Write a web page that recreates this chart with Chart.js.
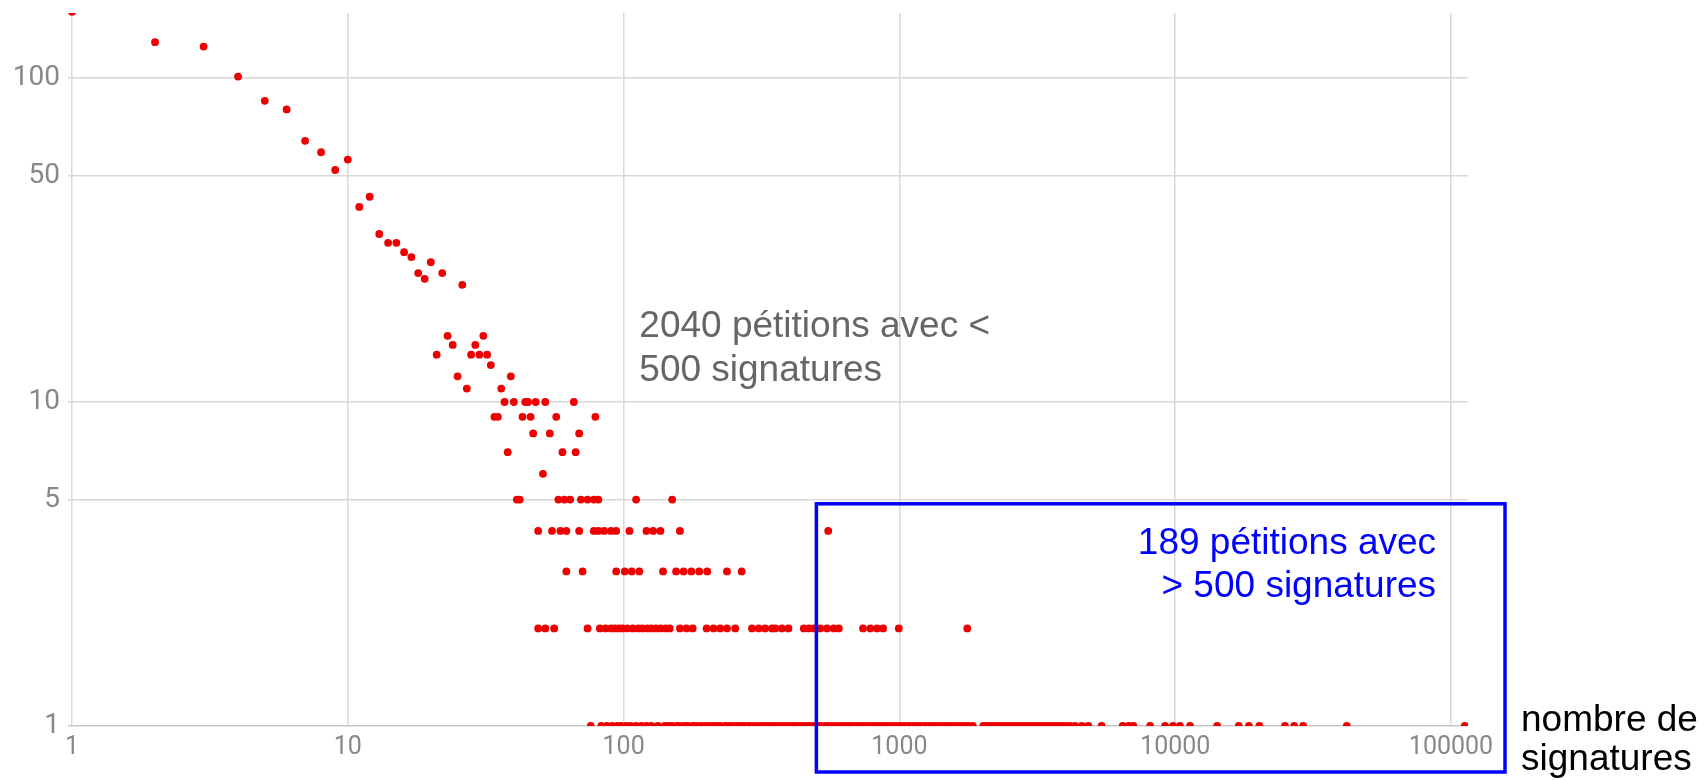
<!DOCTYPE html>
<html>
<head>
<meta charset="utf-8">
<script src="https://cdn.jsdelivr.net/npm/chart.js@4.4.1/dist/chart.umd.min.js"></script>
<style>
  body { margin: 0; background: #fff; }
  #wrap { width: 1705px; height: 780px; position: relative; }
</style>
</head>
<body>
<div id="wrap"><canvas id="myChart"></canvas></div>
<script>
// nombre de signatures pour chaque niveau (nombre de pétitions)
const sigs1 = [76, 83, 87, 91, 95, 98, 102, 106, 111, 116, 121, 126, 133,
  141, 145, 150, 156, 160, 166, 171, 178, 183, 190, 196, 203, 210, 217, 224, 233, 240, 248, 257, 265, 274, 284, 293, 303, 314, 324, 335, 347, 358, 371, 383, 396, 410, 423, 438, 453, 468, 485, 501, 517, 536, 553, 572, 592, 613, 633, 655, 676, 700, 723, 748, 774, 800, 828, 855, 885, 914, 946, 977, 1012, 1045, 1082, 1118, 1157, 1195, 1237, 1278, 1322, 1366, 1413, 1461, 1511, 1562, 1615, 1670, 1727, 1786, 1846,
  2015, 2075, 2140, 2210, 2282, 2355, 2432, 2515, 2600, 2688, 2780, 2872, 2968, 3070, 3172, 3280, 3390, 3505, 3620, 3745, 3870, 4000, 4150,
  4330, 4580, 4840, 5410, 6450, 6800, 7050, 8110, 9190, 9820, 10400, 11320, 14200, 17000, 18500, 20200, 25000, 27000, 29100, 41900, 112200];
const sigs2 = [49, 52, 56, 74, 82, 86, 90, 93, 96, 99, 103, 108, 113, 117, 122, 126, 131, 136, 142, 147, 160, 169, 178, 200, 212, 224, 237, 254, 292, 309, 326, 345, 355, 375, 396, 450, 469, 489, 517, 547, 578, 603, 738, 785, 830, 873, 995, 1762];
const sigs3 = [62, 71, 94, 101, 107, 114, 139, 155, 165, 176, 188, 201, 237, 268];
const sigs4 = [49, 55, 59, 62, 69, 78, 81, 85, 90, 94, 105, 121, 128, 136, 160, 552];
const sigs5 = [41, 42, 58, 61, 64, 70, 74, 78, 81, 111, 150];
const sigs6 = [51];
const sigs7 = [38, 60, 67];
const sigs8 = [47, 54, 69];
const sigs9 = [34, 35, 43, 46, 57, 79];
const sigs10 = [37, 40, 44, 45, 48, 52, 66];

// points isolés au-dessus de 10 pétitions
const upperSigs = [1, 2, 3, 4, 5, 6, 7, 8, 9, 10, 11, 12, 13, 14, 15, 16, 17, 18, 19, 20, 22, 26, 21, 23, 24, 25, 27, 28, 29, 30, 31, 32, 33, 36, 39];
const upperCounts = [160, 129, 125, 101, 85, 80, 64, 59, 52, 56, 40, 43, 33, 31, 31, 29, 28, 25, 24, 27, 25, 23, 14, 16, 15, 12, 11, 14, 15, 14, 16, 14, 13, 11, 12];

const xTicks = [1, 10, 100, 1000, 10000, 100000];
const yTicks = [1, 5, 10, 50, 100];

document.addEventListener("DOMContentLoaded", function () {
  const rows = [sigs1, sigs2, sigs3, sigs4, sigs5, sigs6, sigs7, sigs8, sigs9, sigs10];
  let points = [];
  rows.forEach(function (sigs, i) {
    sigs.forEach(function (s) { points.push({ x: s, y: i + 1 }); });
  });
  upperSigs.forEach(function (s, i) { points.push({ x: s, y: upperCounts[i] }); });

  // annotations : cadre bleu et textes
  const annotations = {
    id: "annotations",
    afterDraw(chart) {
      const ctx = chart.ctx;
      const xs = chart.scales.x, ys = chart.scales.y;
      const area = chart.chartArea;
      ctx.save();

      // cadre bleu (> 500 signatures)
      const left = xs.getPixelForValue(500);
      const top = ys.getPixelForValue(4.85);
      ctx.strokeStyle = "#0000ff";
      ctx.lineWidth = 3.5;
      ctx.strokeRect(left, top, area.right + 37 - left, chart.height - 8 - top);

      ctx.font = '37px "Liberation Sans", Arial, sans-serif';
      ctx.textBaseline = "alphabetic";

      // texte gris
      ctx.fillStyle = "#666666";
      ctx.textAlign = "left";
      const gx = xs.getPixelForValue(114);
      const gy = ys.getPixelForValue(15.9);
      ctx.fillText("2040 pétitions avec <", gx, gy);
      ctx.fillText("500 signatures", gx, gy + 44);

      // texte bleu
      ctx.fillStyle = "#0000ff";
      ctx.textAlign = "right";
      const bx = xs.getPixelForValue(88300);
      const by = ys.getPixelForValue(3.4);
      ctx.fillText("189 pétitions avec", bx, by);
      ctx.fillText("> 500 signatures", bx, by + 43);

      // titre de l'axe x
      ctx.fillStyle = "#000000";
      ctx.textAlign = "left";
      ctx.fillText("nombre de", area.right + 53, area.bottom + 5);
      ctx.fillText("signatures", area.right + 53, area.bottom + 44);

      ctx.restore();
    }
  };

  new Chart(document.getElementById("myChart"), {
    type: "scatter",
    data: {
      datasets: [{
        data: points,
        backgroundColor: "#ec0000",
        borderWidth: 0,
        pointRadius: 3.9,
        pointHoverRadius: 3.9,
      }],
    },
    options: {
      responsive: true,
      maintainAspectRatio: false,
      animation: false,
      events: [],
      layout: { padding: { top: 13, right: 237, bottom: 0, left: 0 } },
      plugins: {
        legend: { display: false },
        tooltip: { enabled: false },
      },
      scales: {
        x: {
          type: "logarithmic",
          min: 0.967,
          max: 115250,
          border: { display: false },
          grid: { color: "#d8d8d8", lineWidth: 1.5, drawTicks: false },
          afterBuildTicks: function (scale) {
            scale.ticks = xTicks.map(function (v) { return { value: v }; });
          },
          afterFit: function (scale) {
            scale.height = 54;
            scale.paddingLeft = 0;
            scale.paddingRight = 0;
          },
          ticks: {
            font: { family: "Roboto", size: 25, lineHeight: 1 },
            color: "#888888",
            padding: 9,
            maxRotation: 0,
            autoSkip: false,
            callback: function (value) { return String(value); },
          },
        },
        y: {
          type: "logarithmic",
          min: 1,
          max: 158.7,
          border: { display: false },
          grid: {
            color: function (c) { return c.tick && c.tick.value === 1 ? "#c8c8c8" : "#d8d8d8"; },
            lineWidth: 1.5,
            drawTicks: false,
          },
          afterBuildTicks: function (scale) {
            scale.ticks = yTicks.map(function (v) { return { value: v }; });
          },
          afterFit: function (scale) {
            scale.width = 68;
            scale.paddingTop = 0;
            scale.paddingBottom = 0;
          },
          ticks: {
            font: { family: "Roboto", size: 28, lineHeight: 1 },
            color: "#888888",
            padding: 8,
            autoSkip: false,
            callback: function (value) { return String(value); },
          },
        },
      },
    },
    plugins: [annotations],
  });
});
</script>
</body>
</html>
